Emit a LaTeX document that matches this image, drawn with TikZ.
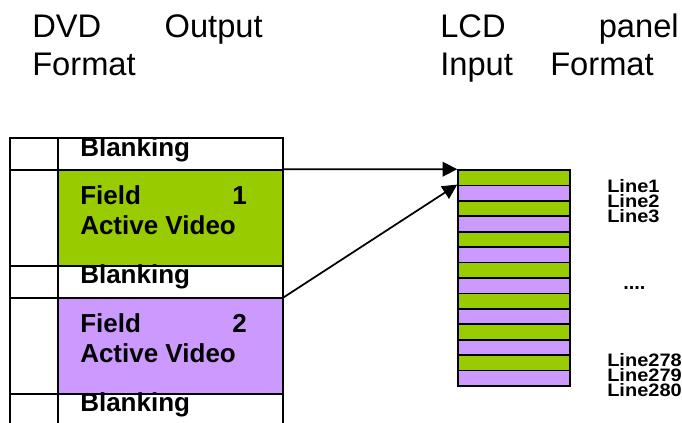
\documentclass[tikz,border=0pt]{standalone}
\usepackage{fontspec}
\setmainfont{Liberation Sans}
\usetikzlibrary{arrows.meta}
\definecolor{fieldgreen}{HTML}{99CC00}
\definecolor{fieldpurple}{HTML}{CC99FF}

\begin{document}
\begin{tikzpicture}[x=0.75pt, y=-0.75pt,
  title/.style={inner sep=0, font=\fontsize{24.5}{29}\selectfont},
  celltext/.style={inner sep=0, font=\bfseries\fontsize{19.5}{23}\selectfont},
  linetext/.style={inner sep=0, font=\bfseries\fontsize{15}{15}\selectfont},
  field/.style={draw, line width=1pt, minimum width=168.75pt, minimum height=72pt, inner sep=0},
  stripe/.style={draw, line width=1.2pt, minimum width=84pt, minimum height=11.57pt, inner sep=0}]

\useasboundingbox (0,0) rectangle (682,423);

% headings
\node[title, anchor=base west] (dvd) at (32,38) {DVD};
\node[title, anchor=base east] (output) at (263,38) {Output};
\node[title, anchor=base west] (dvdfmt) at (32,76) {Format};
\node[title, anchor=base west] (lcd) at (440,38) {LCD};
\node[title, anchor=base east] (panel) at (679,38) {panel};
\node[title, anchor=base west] (lcdin) at (440,76) {Input};
\node[title, anchor=base east] (lcdfmt) at (654,76) {Format};

% DVD frame
\draw[line width=1pt] (10,423) -- (10,138) -- (283,138) -- (283,423)
  (58,138) -- (58,423);
\foreach \y in {170,266,298,394}
  \draw[line width=1pt] (10,\y) -- (283,\y);

\node[field, fill=fieldgreen] (field1) at (170.5,218) {};
\node[field, fill=fieldpurple] (field2) at (170.5,346) {};

\node[celltext, anchor=base west] (blank1) at (80,157) {Blanking};
\node[celltext, anchor=base west] (field1a) at (80,205) {Field};
\node[celltext, anchor=base east] (field1n) at (247,205) {1};
\node[celltext, anchor=base west] (field1b) at (80,235) {Active Video};
\node[celltext, anchor=base west] (blank2) at (80,284) {Blanking};
\node[celltext, anchor=base west] (field2a) at (80,333) {Field};
\node[celltext, anchor=base east] (field2n) at (247,333) {2};
\node[celltext, anchor=base west] (field2b) at (80,363) {Active Video};
\node[celltext, anchor=base west] (blank3) at (80,412) {Blanking};

% LCD lines
\foreach \i in {0,...,13} {
  \ifodd\i \def\fc{fieldpurple}\else \def\fc{fieldgreen}\fi
  \node[stripe, fill=\fc] (s\i) at (514,{177.7+\i*15.43}) {};
}

\foreach \n/\y in {1/193,2/208,3/223,278/367,279/382,280/397}
  \node[linetext, anchor=base west] (line\n) at (607,\y) {\scalebox{1}[0.9]{Line\n}};
\node[linetext, anchor=base west] (dots) at (623,290) {....};

\begin{scope}[-{Triangle[length=11pt,width=11pt]}, line width=1.3pt]
\draw (field1.north east) -- (s0.north west);
\draw (field2.north east) -- (s1.north west);
\end{scope}

\end{tikzpicture}
\end{document}
